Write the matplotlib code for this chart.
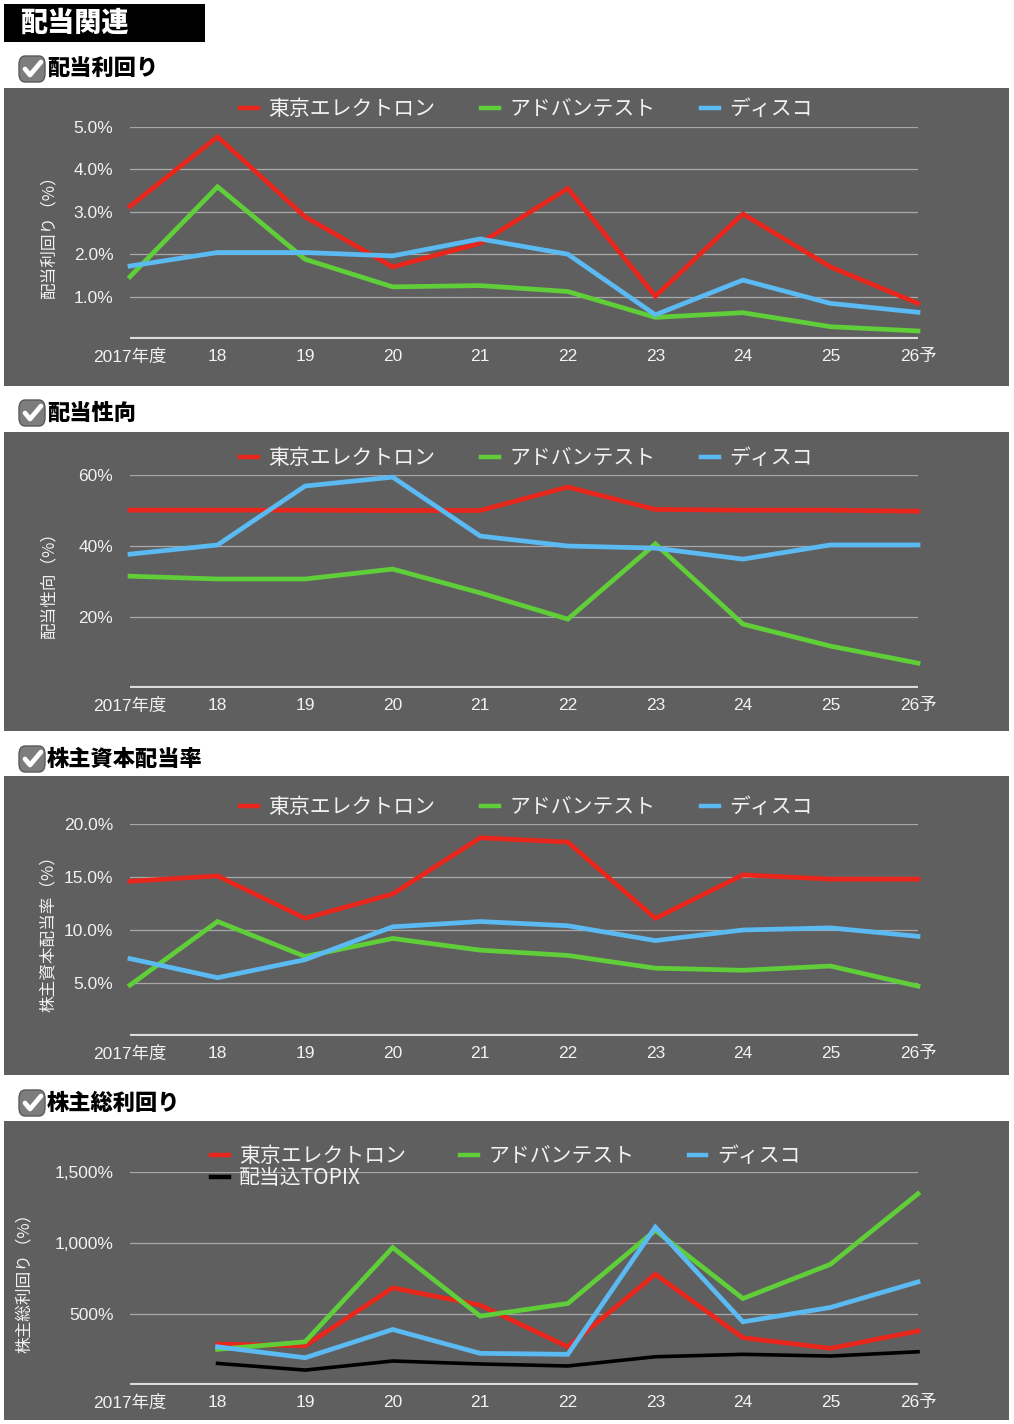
import numpy as np
import matplotlib
matplotlib.use("Agg")
import matplotlib.pyplot as plt
from matplotlib.patches import Rectangle, FancyBboxPatch
from matplotlib.lines import Line2D

plt.rcParams['font.family'] = ['Noto Sans CJK JP', 'DejaVu Sans']
TICK_FONT = ['Liberation Sans', 'Noto Sans CJK JP']

years = ['2017年度', '18', '19', '20', '21', '22', '23', '24', '25', '26予']
companies = ['東京エレクトロン', 'アドバンテスト', 'ディスコ']
topix_name = '配当込TOPIX'

# 配当利回り (%)
yield_tel = [3.13, 4.77, 2.88, 1.70, 2.26, 3.55, 1.01, 2.95, 1.70, 0.84]
yield_adv = [1.47, 3.59, 1.88, 1.23, 1.26, 1.12, 0.51, 0.62, 0.29, 0.19]
yield_dsc = [1.72, 2.04, 2.04, 1.96, 2.36, 2.00, 0.57, 1.39, 0.84, 0.63]

# 配当性向 (%)
payout_tel = [50.1, 50.1, 50.1, 50.0, 50.0, 56.6, 50.3, 50.1, 50.1, 49.8]
payout_adv = [31.5, 30.7, 30.7, 33.5, 26.8, 19.4, 40.6, 18.0, 11.8, 7.0]
payout_dsc = [37.7, 40.3, 56.9, 59.4, 42.8, 40.0, 39.4, 36.3, 40.3, 40.3]

# 株主資本配当率 (%)
doe_tel = [14.6, 15.1, 11.1, 13.4, 18.7, 18.3, 11.1, 15.2, 14.8, 14.8]
doe_adv = [4.8, 10.8, 7.5, 9.2, 8.1, 7.6, 6.4, 6.2, 6.6, 4.7]
doe_dsc = [7.3, 5.5, 7.2, 10.3, 10.8, 10.4, 9.0, 10.0, 10.2, 9.4]

# 株主総利回り (%)
tsr_tel = [np.nan, 288, 276, 684, 562, 269, 780, 333, 258, 380]
tsr_adv = [np.nan, 251, 304, 968, 485, 574, 1089, 609, 850, 1347]
tsr_dsc = [np.nan, 269, 192, 391, 223, 216, 1112, 445, 546, 726]
tsr_topix = [np.nan, 152, 105, 169, 148, 134, 199, 216, 204, 234]

RED = '#e8261b'
GREEN = '#5fce39'
BLUE = '#5bbaf2'
BG = '#5f5f5f'
TXT = '#f2f2f2'

W, H = 1014, 1424
fig = plt.figure(figsize=(W / 100, H / 100), dpi=100)
fig.patch.set_facecolor('white')


def fx(px):
    return px / W


def fy(py):
    return 1 - py / H


def rect(x0, y0, x1, y1):
    return [fx(x0), fy(y1), fx(x1) - fx(x0), fy(y0) - fy(y1)]


# header
fig.patches.append(Rectangle((fx(4), fy(42)), fx(205) - fx(4), fy(4) - fy(42),
                             transform=fig.transFigure, facecolor='black', edgecolor='none'))
fig.text(fx(20), fy(23), '配当関連', color='white', fontsize=19.5, fontweight='black',
         va='center', ha='left')


def section_title(py, title):
    box = FancyBboxPatch((fx(19), fy(py + 13)), fx(26), fx(26) * W / H,
                         boxstyle='round,pad=0,rounding_size=0.006',
                         transform=fig.transFigure, facecolor='#7d7d7d',
                         edgecolor='#5a5a5a', linewidth=1)
    fig.patches.append(box)
    fig.lines.append(Line2D([fx(25), fx(30), fx(41)], [fy(py), fy(py + 6), fy(py - 7)],
                            transform=fig.transFigure, color='white', lw=3.4,
                            solid_capstyle='round', solid_joinstyle='round'))
    fig.text(fx(47), fy(py), title, color='black', fontsize=16, fontweight='black',
             va='center', ha='left')


def panel(top, bottom):
    fig.patches.append(Rectangle((fx(4), fy(bottom)), fx(1009) - fx(4), fy(top) - fy(bottom),
                                 transform=fig.transFigure, facecolor=BG, edgecolor='none',
                                 zorder=-5))


def chart(ytop, ybot, ymax, ticks, ticklabels, ylabel, series, labelx=57):
    ax = fig.add_axes(rect(130, ytop, 918, ybot))
    ax.patch.set_alpha(0)
    x = np.arange(len(years))
    for vals, col, lw in series:
        ax.plot(x, vals, color=col, lw=lw, clip_on=False, solid_joinstyle='miter')
    ax.set_xlim(0, len(years) - 1)
    ax.set_ylim(0, ymax)
    ax.set_yticks(ticks)
    ax.set_yticklabels(ticklabels, family=TICK_FONT)
    ax.set_xticks(x)
    ax.set_xticklabels(years, family=TICK_FONT)
    ax.tick_params(length=0, colors=TXT, labelsize=12.5)
    ax.tick_params(axis='y', pad=12)
    ax.tick_params(axis='x', pad=7)
    ax.grid(axis='y', color='#a8a8a8', lw=0.9)
    ax.set_axisbelow(True)
    ax.axhline(0, color='#dcdcdc', lw=3, zorder=1)
    for s in ax.spines.values():
        s.set_visible(False)
    ax.set_ylabel(ylabel, color=TXT, fontsize=12)
    ax.yaxis.set_label_coords((labelx - 130) / 788, 0.5)
    return ax


def add_legend(ax, handles, labels, x0, yc, colsp):
    ax.legend(handles, labels, ncol=3, frameon=False, fontsize=15,
              loc='center left', bbox_to_anchor=(fx(x0), fy(yc)),
              bbox_transform=fig.transFigure, borderpad=0, borderaxespad=0,
              handlelength=0.85, handletextpad=0.5, columnspacing=colsp,
              labelspacing=0.0, labelcolor=TXT)


leg_handles = [Line2D([], [], color=c, lw=3.2) for c in (RED, GREEN, BLUE)]
LW = 3.4

# 1. 配当利回り
section_title(69, '配当利回り')
panel(88, 386)
ax1 = chart(127, 339, 5, [1, 2, 3, 4, 5], ['1.0%', '2.0%', '3.0%', '4.0%', '5.0%'],
            '配当利回り（%）',
            [(yield_tel, RED, LW), (yield_adv, GREEN, LW), (yield_dsc, BLUE, LW)])
add_legend(ax1, leg_handles, companies, 240, 109, 2.2)

# 2. 配当性向
section_title(413, '配当性向')
panel(432, 731)
ax2 = chart(475, 688, 60, [20, 40, 60], ['20%', '40%', '60%'],
            '配当性向（%）',
            [(payout_tel, RED, LW), (payout_adv, GREEN, LW), (payout_dsc, BLUE, LW)])
add_legend(ax2, leg_handles, companies, 240, 458, 2.2)

# 3. 株主資本配当率
section_title(759, '株主資本配当率')
panel(776, 1075)
ax3 = chart(824, 1036, 20, [5, 10, 15, 20], ['5.0%', '10.0%', '15.0%', '20.0%'],
            '株主資本配当率（%）',
            [(doe_tel, RED, LW), (doe_adv, GREEN, LW), (doe_dsc, BLUE, LW)])
add_legend(ax3, leg_handles, companies, 240, 807, 2.2)

# 4. 株主総利回り
section_title(1103, '株主総利回り')
panel(1121, 1420)
ax4 = chart(1172, 1385, 1500, [500, 1000, 1500], ['500%', '1,000%', '1,500%'],
            '株主総利回り（%）',
            [(tsr_topix, 'black', 2.6), (tsr_tel, RED, LW), (tsr_adv, GREEN, LW), (tsr_dsc, BLUE, LW)],
            labelx=33)
topix_handle = Line2D([], [], color='black', lw=3.2)
h4 = [leg_handles[0], topix_handle, leg_handles[1], leg_handles[2]]
l4 = [companies[0], topix_name, companies[1], companies[2]]
add_legend(ax4, h4, l4, 211, 1167, 2.6)

fig.savefig('out.png', dpi=100, facecolor='white')
